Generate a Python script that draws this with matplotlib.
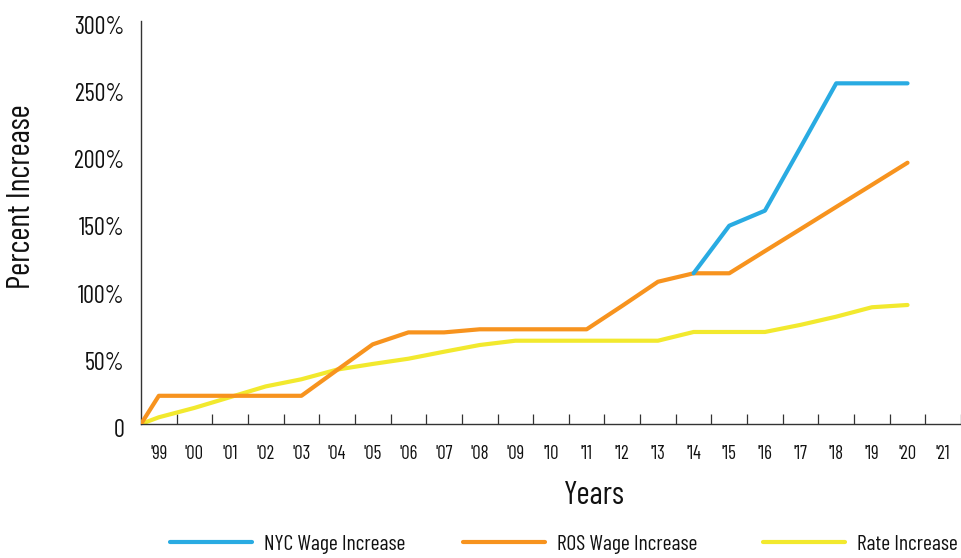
import numpy as np
import matplotlib
matplotlib.use("Agg")
import matplotlib.pyplot as plt
from matplotlib.transforms import ScaledTranslation
from matplotlib.lines import Line2D

plt.rcParams['font.family'] = ['Barlow Condensed', 'Roboto Condensed', 'Oswald',
                               'Open Sans Condensed', 'DejaVu Sans']

# ---- data ----
year_labels = ["'99", "'00", "'01", "'02", "'03", "'04", "'05", "'06", "'07", "'08",
               "'09", "'10", "'11", "'12", "'13", "'14", "'15", "'16", "'17", "'18",
               "'19", "'20", "'21"]
start_value = 0  # value at the axis origin (before '99)

# values for '99 .. '20 (percent)
nyc_wage = [np.nan] * 15 + [112.2, 147.6, 158.8, 206.0, 253.6, 253.6, 253.6]
ros_wage = [21.0, 21.0, 21.0, 21.0, 21.0, 40.2, 59.3, 68.2, 68.2, 70.5,
            70.5, 70.5, 70.5, 88.0, 105.9, 112.2, 112.2, 128.7, 145.1, 161.6,
            178.0, 194.5]
rate_inc = [5.0, 12.0, 20.0, 28.0, 33.3, 40.5, 44.7, 48.6, 53.8, 58.8,
            62.0, 62.0, 62.0, 62.0, 62.0, 68.5, 68.5, 68.5, 73.8, 79.9,
            86.9, 88.6]
y_ticks = [0, 50, 100, 150, 200, 250, 300]
y_tick_labels = ["0", "50%", "100%", "150%", "200%", "250%", "300%"]

series_names = ["NYC Wage Increase", "ROS Wage Increase", "Rate Increase"]
colors = ["#29ABE2", "#F7931E", "#F2E92E"]

# ---- figure ----
fig = plt.figure(figsize=(9.61, 5.58), dpi=100)
W, H = 961, 558
ax = fig.add_axes([141 / W, 1 - 424 / H, (W - 141) / W, (424 - 21) / H])

n = len(ros_wage)
xs = np.concatenate([[-0.5], np.arange(n)])

def full(vals):
    return np.concatenate([[start_value], np.array(vals, dtype=float)])

lw = 3.0
ax.plot(xs, full(rate_inc), color=colors[2], lw=lw, solid_capstyle='round',
        solid_joinstyle='round', zorder=2)
ax.plot(xs, full(ros_wage), color=colors[1], lw=lw, solid_capstyle='round',
        solid_joinstyle='round', zorder=3)
ax.plot(xs, full(nyc_wage), color=colors[0], lw=lw, solid_capstyle='round',
        solid_joinstyle='round', zorder=4)

ax.set_xlim(-0.5, -0.5 + (W - 141) / 36.0)
ax.set_ylim(0, 300)

for s in ['top', 'right']:
    ax.spines[s].set_visible(False)
for s in ['left', 'bottom']:
    ax.spines[s].set_color('#333333')
    ax.spines[s].set_linewidth(1.0)

ax.set_xticks(np.arange(len(year_labels)) + 0.5)
ax.set_xticklabels([])
ax.tick_params(axis='x', which='major', direction='in', length=7, width=0.9,
               color='#333333')
ax.set_xticks(np.arange(len(year_labels)), minor=True)
ax.set_xticklabels(year_labels, minor=True)
ax.tick_params(axis='x', which='minor', length=0, pad=15, labelsize=13.5,
               labelcolor='#111111')

ax.set_yticks(y_ticks)
ax.set_yticklabels(y_tick_labels)
ax.tick_params(axis='y', length=0, pad=12, labelsize=17.5, labelcolor='#111111')
for lab in ax.get_yticklabels():
    lab.set_transform(lab.get_transform() + ScaledTranslation(0, -4 / 100, fig.dpi_scale_trans))

fig.text(22 / W, 1 - 197 / H, "Percent Increase", rotation=90, ha='center',
         va='center', fontsize=23, color='#111111')
fig.text(594 / W, 1 - 496 / H, "Years", ha='center', va='center',
         fontsize=23, color='#111111')

legend_x = [170 / W, 463 / W, 763 / W]
for name, col, lx in zip(series_names, colors, legend_x):
    h = Line2D([], [], color=col, lw=lw, solid_capstyle='round')
    fig.legend([h], [name], loc='center left', bbox_to_anchor=(lx, 1 - 544 / H),
               frameon=False, fontsize=15.5, handlelength=3.8, handletextpad=0.55,
               borderpad=0, borderaxespad=0, labelcolor='#111111')

fig.savefig("out.png", dpi=100)
